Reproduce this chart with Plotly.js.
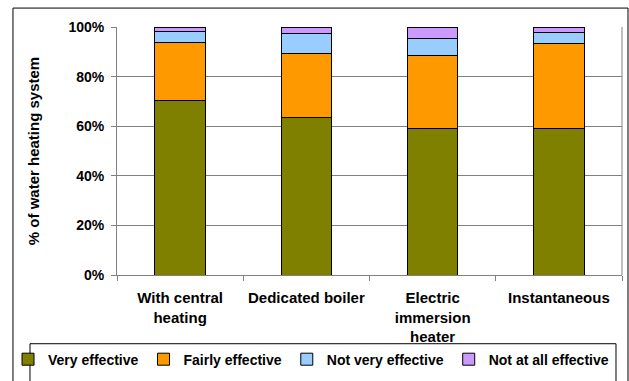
<!DOCTYPE html>
<html>
<head>
<meta charset="utf-8">
<script src="https://cdn.plot.ly/plotly-3.0.1.min.js"></script>
<style>html,body{margin:0;padding:0;background:#fff;}#chart{width:629px;height:381px;}</style>
</head>
<body>
<div id="chart"></div>
<script>
var categories = ["With central<br>heating", "Dedicated boiler", "Electric<br>immersion<br>heater", "Instantaneous"];
var veryEffective = [70.3, 63.5, 58.9, 58.9];
var fairlyEffective = [23.6, 25.7, 29.5, 34.3];
var notVeryEffective = [4.4, 8.3, 7.1, 4.7];
var notAtAllEffective = [1.7, 2.5, 4.5, 2.1];
var seriesNames = ["Very effective", "Fairly effective", "Not very effective", "Not at all effective"];
var seriesColors = ["#808000", "#FF9900", "#99CCFF", "#CC99FF"];
var yTickVals = [0, 20, 40, 60, 80, 100];
var yTickText = ["0%", "20%", "40%", "60%", "80%", "100%"];

var seriesValues = [veryEffective, fairlyEffective, notVeryEffective, notAtAllEffective];
var traces = seriesValues.map(function(vals, i) {
  return {
    type: "bar",
    x: categories,
    y: vals,
    name: seriesNames[i],
    marker: {color: seriesColors[i], line: {color: "#000000", width: 1}},
    hoverinfo: "skip"
  };
});

var F = "Arial, 'Liberation Sans', sans-serif";
var layout = {
  width: 629, height: 381,
  barmode: "stack",
  bargap: 0.6,
  showlegend: true,
  paper_bgcolor: "#ffffff",
  plot_bgcolor: "#ffffff",
  margin: {l: 117, r: 7, t: 27, b: 105, pad: 0},
  font: {family: F, color: "#000000", size: 15, weight: "bold"},
  xaxis: {
    type: "category",
    showline: true, linecolor: "#808080", linewidth: 1,
    ticks: "outside", tickson: "boundaries", ticklen: 5, tickcolor: "#808080",
    ticklabelstandoff: 9,
    tickfont: {family: F, size: 15, color: "#000", weight: "bold"},
    showgrid: false, mirror: false, automargin: false,
    fixedrange: true
  },
  yaxis: {
    range: [0, 100],
    tickvals: yTickVals, ticktext: yTickText,
    showline: true, linecolor: "#808080", linewidth: 1,
    ticks: "outside", ticklen: 5, tickcolor: "#808080",
    ticklabelstandoff: 4,
    tickfont: {family: F, size: 14, color: "#000", weight: "bold"},
    showgrid: true, gridcolor: "#808080", gridwidth: 1,
    zeroline: false, automargin: false,
    title: {text: "% of water heating system", standoff: 25, font: {family: F, size: 15, color: "#000", weight: "bold"}},
    fixedrange: true
  },
  legend: {
    orientation: "h",
    xref: "paper", yref: "paper",
    x: -0.2158, y: -0.40, xanchor: "left", yanchor: "bottom",
    font: {family: F, size: 14, color: "#000", weight: "bold"},
    bgcolor: "rgba(0,0,0,0)", borderwidth: 0,
    traceorder: "normal"
  },
  shapes: [
    {type: "line", xref: "paper", yref: "paper", x0: 1, x1: 1, y0: 0, y1: 1, line: {color: "#808080", width: 1}},
    {type: "rect", xref: "paper", yref: "paper", x0: -0.206, x1: 1.0119, y0: -0.46, y1: 1.0763, line: {color: "#000000", width: 1}, layer: "below"},
    {type: "rect", xref: "paper", yref: "paper", x0: -0.1723, x1: 0.9881, y0: -0.46, y1: -0.2771, line: {color: "#000000", width: 1}, layer: "below"}
  ]
};

Plotly.newPlot("chart", traces, layout, {staticPlot: true, displayModeBar: false});
</script>
</body>
</html>
